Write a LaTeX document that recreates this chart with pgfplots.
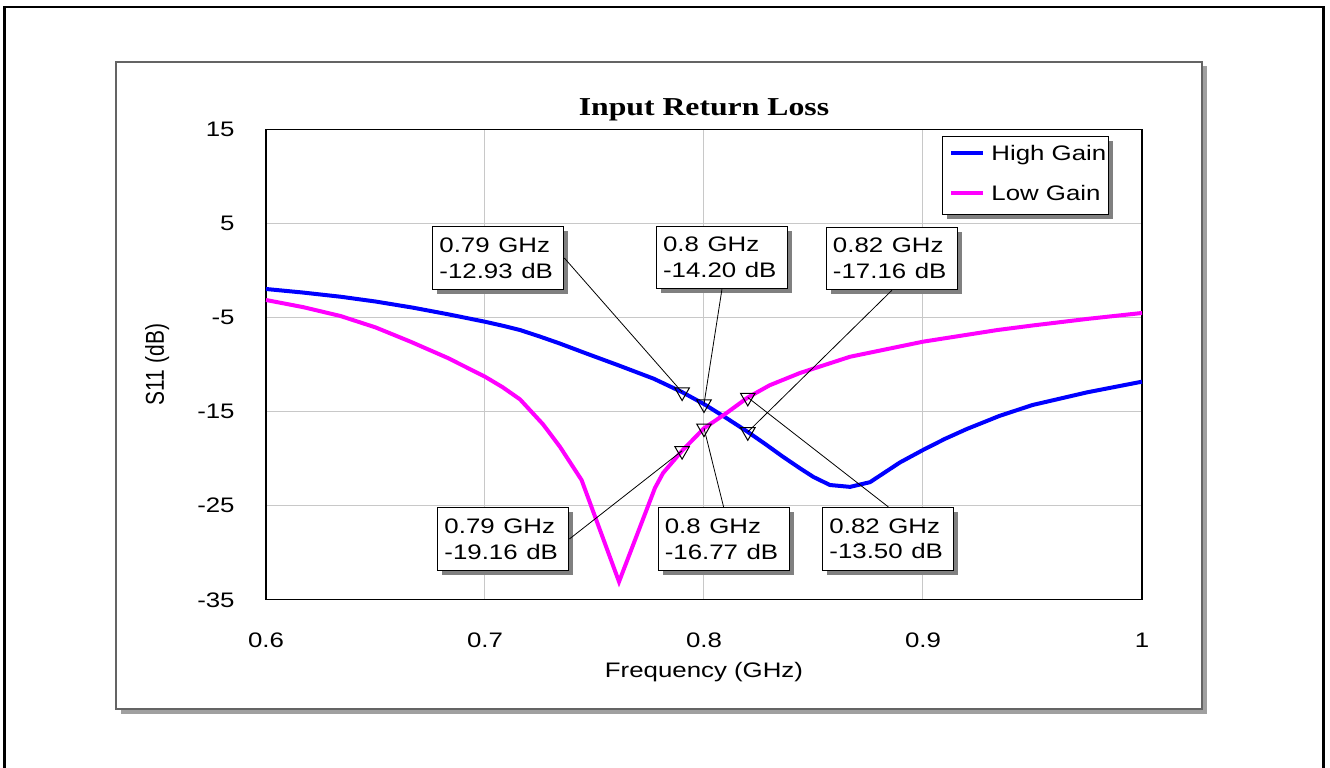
\documentclass[border=0pt]{standalone}
\usepackage{pgfplots}
\pgfplotsset{compat=1.18}
\usepackage{pgfplotstable}
\usepackage{graphicx}
\usepackage{fontspec}
\setmainfont{Liberation Sans}
\newfontfamily\titlefont{Liberation Serif}
\usetikzlibrary{shadows,backgrounds}
\newcommand{\sx}[1]{\scalebox{1.23}[1]{#1}}
\newcommand{\sy}[1]{\scalebox{1}[1.23]{#1}}
\definecolor{gridgray}{RGB}{200,200,200}
\definecolor{shadowgray}{RGB}{128,128,128}
\definecolor{panelshadow}{RGB}{160,160,160}
\definecolor{panelborder}{RGB}{100,100,100}
\definecolor{hgblue}{RGB}{0,0,255}
\definecolor{lgpink}{RGB}{255,0,255}

\pgfplotstableread{
f v
0.600 -1.97
0.617 -2.35
0.634 -2.79
0.650 -3.30
0.667 -3.95
0.683 -4.65
0.700 -5.45
0.708 -5.87
0.716 -6.33
0.725 -7.02
0.734 -7.75
0.746 -8.80
0.760 -10.00
0.777 -11.50
0.790 -12.93
0.800 -14.20
0.810 -15.65
0.820 -17.16
0.828 -18.45
0.836 -19.79
0.844 -21.05
0.850 -21.95
0.8575 -22.80
0.8667 -23.00
0.8758 -22.50
0.882 -21.55
0.8895 -20.40
0.900 -19.08
0.910 -17.90
0.920 -16.85
0.935 -15.45
0.950 -14.30
0.975 -12.95
1.000 -11.82
}\highgain

\pgfplotstableread{
f v
0.600 -3.14
0.617 -3.90
0.634 -4.84
0.650 -6.05
0.666 -7.57
0.683 -9.30
0.700 -11.29
0.708 -12.40
0.716 -13.70
0.7265 -16.35
0.7342 -18.73
0.7441 -22.27
0.7612 -33.08
0.7776 -23.12
0.7813 -21.53
0.790 -19.16
0.800 -16.77
0.810 -15.20
0.820 -13.50
0.830 -12.20
0.8438 -10.90
0.8667 -9.17
0.900 -7.57
0.934 -6.33
0.950 -5.85
0.975 -5.15
1.000 -4.52
}\lowgain

\begin{document}
\begin{tikzpicture}[x=1pt,y=1pt]
\useasboundingbox (0,0) rectangle (665,383.5);
\begin{axis}[
  at={(133pt,83.6pt)}, anchor=south west,
  width=438pt, height=235.25pt, scale only axis,
  xmin=0.6, xmax=1, ymin=-35, ymax=15,
  xtick={0.6,0.7,0.8,0.9,1},
  xticklabels={\sx{0.6},\sx{0.7},\sx{0.8},\sx{0.9},\sx{1}},
  ytick={-35,-25,-15,-5,5,15},
  yticklabels={\sx{-35},\sx{-25},\sx{-15},\sx{-5},\sx{5},\sx{15}},
  grid=major, major grid style={gridgray, line width=0.5pt},
  major tick length=0pt,
  axis line style={black, line width=0.6pt},
  tick label style={font=\fontsize{10.5}{12}\selectfont, inner sep=0pt},
  xticklabel style={anchor=base, yshift=-23.6pt},
  yticklabel style={anchor=east, xshift=-15.5pt},
  xlabel={\sx{Frequency (GHz)}},
  xlabel style={at={([yshift=-38.75pt]axis description cs:0.5,0)}, anchor=base, inner sep=0pt, font=\fontsize{10.5}{12}\selectfont},
  ylabel={\sy{S11 (dB)}},
  ylabel style={at={([xshift=-51pt]axis description cs:0,0.5)}, anchor=base, inner sep=0pt, font=\fontsize{10.5}{12}\selectfont},
  title={\sx{Input Return Loss}},
  title style={at={([yshift=1pt]axis description cs:0.5,1)}, anchor=base, inner sep=0pt, font=\fontsize{12.9}{14}\titlefont\bfseries},
  legend style={name=leg, at={(0.9615,0.9858)}, anchor=north east, draw=black, fill=white,
    outer sep=0pt,
    font=\fontsize{10.5}{12}\selectfont,
    inner xsep=1pt, inner ysep=4.5pt, row sep=10pt, column sep=3.3pt,
    nodes={inner sep=0pt, text height=7.6pt, text depth=2.4pt}},
  legend cell align=left,
  legend image code/.code={\path[draw=none] (0pt,0pt) -- (3.5pt,0pt); \draw[#1, line width=2pt] (3.5pt,1pt) -- (19.2pt,1pt);},
  clip=false,
]
\addplot[hgblue, line width=2pt] table[x=f, y=v] {\highgain};
\addlegendentry{\sx{High Gain}}
\addplot[lgpink, line width=2pt] table[x=f, y=v] {\lowgain};
\addlegendentry{\sx{Low Gain}}
\addplot[only marks, mark=triangle, mark size=4.2pt, mark options={rotate=180, black, line width=0.5pt, solid}, forget plot]
  coordinates {(0.79,-12.93) (0.8,-14.20) (0.82,-17.16) (0.79,-19.16) (0.8,-16.77) (0.82,-13.50)};
\tikzset{mbox/.style={draw=black, line width=0.5pt, fill=white,
  drop shadow={shadow xshift=2.25pt, shadow yshift=-2.25pt, fill=shadowgray, opacity=1},
  text width=58.9pt, align=left, inner xsep=3.3pt, inner ysep=0pt, minimum height=31.3pt,
  font=\fontsize{10.5}{12.85}\selectfont}}
\node[mbox] (b1) at (axis cs:0.7061,1.32) {\sx{0.79 GHz}\\\sx{-12.93 dB}};
\node[mbox] (b2) at (axis cs:0.8082,1.38) {\sx{0.8 GHz}\\\sx{-14.20 dB}};
\node[mbox] (b3) at (axis cs:0.8858,1.27) {\sx{0.82 GHz}\\\sx{-17.16 dB}};
\node[mbox] (b4) at (axis cs:0.7084,-28.54) {\sx{0.79 GHz}\\\sx{-19.16 dB}};
\node[mbox] (b5) at (axis cs:0.809,-28.56) {\sx{0.8 GHz}\\\sx{-16.77 dB}};
\node[mbox] (b6) at (axis cs:0.8842,-28.51) {\sx{0.82 GHz}\\\sx{-13.50 dB}};
\draw[black, line width=0.4pt] (b1.east) -- (axis cs:0.79,-12.93);
\draw[black, line width=0.4pt] (b2.south) -- (axis cs:0.8,-14.20);
\draw[black, line width=0.4pt] (b3.south) -- (axis cs:0.82,-17.16);
\draw[black, line width=0.4pt] (b4.east) -- (axis cs:0.79,-19.16);
\draw[black, line width=0.4pt] (b5.north) -- (axis cs:0.8,-16.77);
\draw[black, line width=0.4pt] (b6.north) -- (axis cs:0.82,-13.50);
\end{axis}
\begin{scope}[on background layer]
% outer frame
\draw[line width=1.35pt] (2.25,-2) -- (2.25,380) -- (661.65,380) -- (661.65,-2);
% panel with shadow
\fill[panelshadow] (60.25,26.75) rectangle (603.25,350.25);
\filldraw[fill=white, draw=panelborder, line width=0.65pt] (58,29) rectangle (601,352.5);
% legend shadow
\fill[shadowgray] ([xshift=2.5pt,yshift=-2.5pt]leg.south west) rectangle ([xshift=2.5pt,yshift=-2.5pt]leg.north east);
\end{scope}
\end{tikzpicture}
\end{document}
